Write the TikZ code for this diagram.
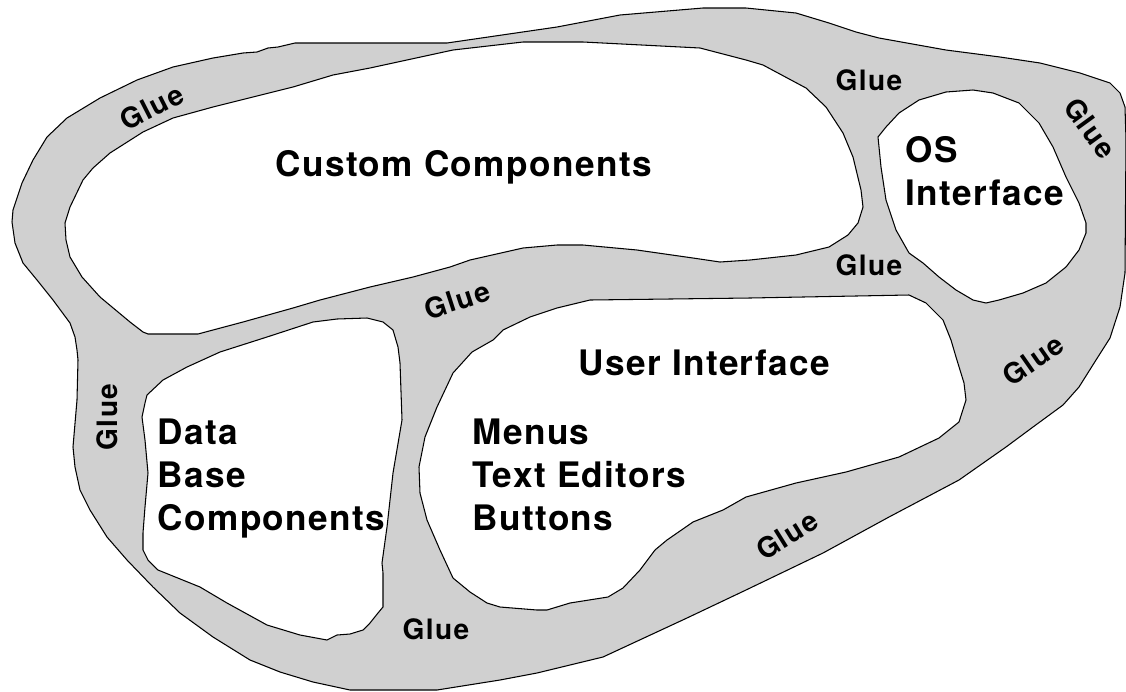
\documentclass[tikz,border=0pt]{standalone}
\usepackage{fontspec}
\setmainfont{TeX Gyre Heros}
\newfontfamily\partfont{TeX Gyre Heros}[LetterSpace=4]
\newfontfamily\gluefont{TeX Gyre Heros}[LetterSpace=5]
\definecolor{glueGray}{RGB}{208, 208, 208}
\usepackage{tikz}
\usetikzlibrary{positioning}

\begin{document}
\begin{tikzpicture}[x=0.02cm,y=-0.02cm,line width=0.6pt,
    region/.style={fill=white,draw=black},
    gluetext/.style={font=\gluefont\bfseries\fontsize{16pt}{19pt}\selectfont},
    parttext/.style={font=\partfont\bfseries\fontsize{20pt}{24.4pt}\selectfont,align=left,anchor=base west,inner sep=0pt}]
    \useasboundingbox (0,0) rectangle (1126,691);

    % Glue (outer blob)
    \filldraw[fill=glueGray,draw=black] (295,43) -- (370,43) -- (447,43) -- (557,27) -- (620,15) -- (703,8) -- (746,8) -- (796,13)
        -- (829,23) -- (856,32) -- (879,38) -- (946,50) -- (1000,57) -- (1040,63) -- (1080,73) -- (1110,83) -- (1120,93)
        -- (1125,107) -- (1126,140) -- (1125,273) -- (1120,307) -- (1110,338) -- (1096,360) -- (1079,387) -- (1063,405)
        -- (1033,427) -- (1006,447) -- (959,480) -- (889,517) -- (823,553) -- (746,590) -- (687,618) -- (603,657)
        -- (537,673) -- (500,680) -- (437,690) -- (350,690) -- (313,682) -- (280,672) -- (250,660) -- (213,637)
        -- (180,613) -- (153,587) -- (127,560) -- (107,537) -- (90,510) -- (80,490) -- (75,467) -- (73,447) -- (77,400)
        -- (78,360) -- (77,350) -- (75,337) -- (70,323) -- (53,300) -- (37,280) -- (23,263) -- (15,243) -- (12,222)
        -- (13,210) -- (22,183) -- (33,160) -- (47,137) -- (67,118) -- (100,98) -- (137,80) -- (173,67) -- (213,58)
        -- (243,53) -- (257,52) -- (268,48) -- (278,47) -- cycle;

    % Custom Components
    \filldraw[region] (65,223) -- (70,207) -- (83,180) -- (93,168) -- (110,153) -- (143,132) -- (173,118) -- (213,107)
        -- (253,97) -- (293,87) -- (333,75) -- (370,68) -- (453,50) -- (523,42) -- (583,42) -- (700,48) -- (746,60)
        -- (763,65) -- (806,88) -- (826,107) -- (843,133) -- (853,157) -- (861,190) -- (863,207) -- (858,223)
        -- (848,235) -- (829,247) -- (796,255) -- (750,260) -- (720,262) -- (693,258) -- (637,250) -- (583,245)
        -- (557,245) -- (523,248) -- (470,260) -- (450,267) -- (413,277) -- (370,287) -- (320,300) -- (293,308)
        -- (243,322) -- (198,334) -- (148,334) -- (143,332) -- (130,322) -- (100,297) -- (82,277) -- (70,257)
        -- (66,240) -- cycle;

    % OS Interface
    \filldraw[region] (878,137) -- (886,127) -- (899,113) -- (919,100) -- (946,92) -- (973,90) -- (993,93) -- (1019,103)
        -- (1039,123) -- (1053,147) -- (1066,177) -- (1079,203) -- (1086,223) -- (1086,233) -- (1079,250) -- (1066,267)
        -- (1046,283) -- (1023,293) -- (999,300) -- (986,303) -- (973,300) -- (956,290) -- (939,277) -- (923,263)
        -- (909,253) -- (896,230) -- (886,200) -- (881,167) -- cycle;

    % Data Base Components
    \filldraw[region] (145,403) -- (147,395) -- (163,380) -- (187,367) -- (220,352) -- (267,337) -- (313,322) -- (337,319)
        -- (367,318) -- (383,322) -- (393,330) -- (398,347) -- (400,363) -- (402,420) -- (393,473) -- (387,527)
        -- (382,563) -- (383,573) -- (383,607) -- (378,613) -- (370,623) -- (363,630) -- (350,634) -- (337,635)
        -- (327,640) -- (300,635) -- (267,625) -- (227,603) -- (200,587) -- (158,570) -- (148,560) -- (143,550)
        -- (143,533) -- (145,507) -- (148,473) -- (145,440) -- (142,417) -- cycle;

    % User Interface
    \filldraw[region] (472,352) -- (493,340) -- (503,330) -- (530,317) -- (557,308) -- (590,300) -- (750,298) -- (909,295)
        -- (926,303) -- (943,320) -- (951,340) -- (956,357) -- (964,383) -- (966,400) -- (959,422) -- (939,438)
        -- (899,457) -- (846,472) -- (796,483) -- (746,497) -- (723,510) -- (693,522) -- (667,540) -- (655,550)
        -- (640,570) -- (623,588) -- (608,597) -- (570,603) -- (547,610) -- (537,610) -- (500,607) -- (487,603)
        -- (470,592) -- (453,578) -- (440,550) -- (427,520) -- (420,493) -- (419,467) -- (425,437) -- (437,407)
        -- (453,373) -- cycle;

    % part labels (base = last line)
    \node[parttext] (custom) at (275,176) {Custom Components};
    \node[parttext] (os) at (905,205) {OS\\Interface};
    \node[parttext] (ui) at (578,375) {User Interface};
    \node[parttext] (db) at (157,530) {Data\\Base\\Components};
    \node[parttext] (menus) at (472,530) {Menus\\Text Editors\\Buttons};

    % glue labels
    \node[gluetext,rotate=27] (glueTL) at (152,107) {Glue};
    \node[gluetext] (glueTop) at (869,80) {Glue};
    \node[gluetext,rotate=-54] (glueRight) at (1090,128) {Glue};
    \node[gluetext] (glueOS) at (869,265) {Glue};
    \node[gluetext,rotate=18] (glueMid) at (457,300) {Glue};
    \node[gluetext,rotate=35] (glueUIR) at (1033,360) {Glue};
    \node[gluetext,rotate=32] (glueLow) at (787,535) {Glue};
    \node[gluetext] (glueBottom) at (436,629) {Glue};
    \node[gluetext,rotate=90] (glueLeft) at (107,417) {Glue};
\end{tikzpicture}
\end{document}
